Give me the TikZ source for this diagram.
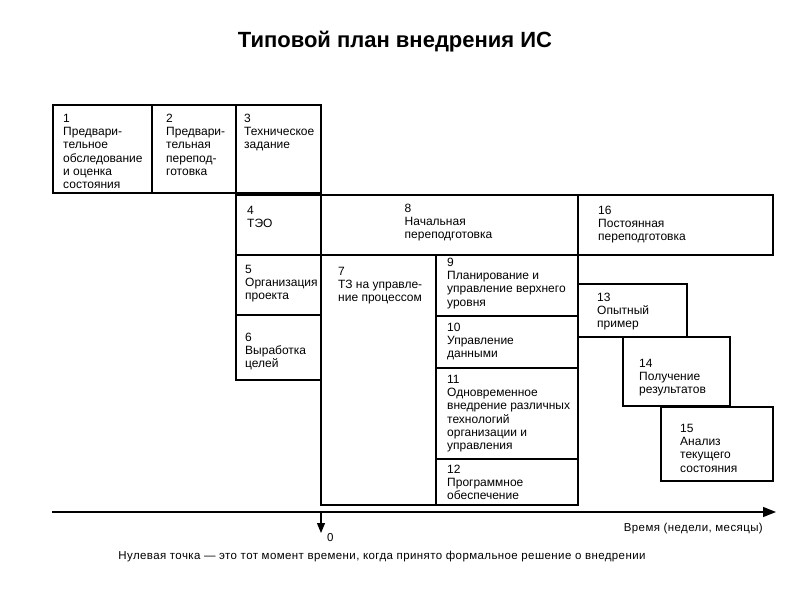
\documentclass[tikz,border=0pt]{standalone}
\usepackage{fontspec}
\setmainfont{Liberation Sans}
\usetikzlibrary{arrows.meta,positioning}

\tikzstyle{blk}=[draw,rectangle,line width=1.4pt,inner sep=0pt,outer sep=0pt,anchor=north west]
\tikzstyle{txt}=[anchor=north west,inner sep=0pt,align=left,font=\fontsize{12}{13.2}\selectfont]
\tikzstyle{note}=[inner sep=0pt,font=\fontsize{11.5}{13}\selectfont\addfontfeature{LetterSpace=3.5}]

\begin{document}
\begin{tikzpicture}[x=1pt,y=-1pt]
        \useasboundingbox (0,0) rectangle (800,600);
        \node[font=\fontsize{22}{26}\selectfont\bfseries] (title) at (395,42) {Типовой план внедрения ИС};
        %
        \node[blk,minimum width=99,minimum height=88](b1) at (53,105){};
        \node[blk,minimum width=84,minimum height=88](b2) at (152,105){};
        \node[blk,minimum width=85,minimum height=88](b3) at (236,105){};
        \node[blk,minimum width=85,minimum height=60](b4) at (236,195){};
        \node[blk,minimum width=257,minimum height=60](b8) at (321,195){};
        \node[blk,minimum width=195,minimum height=60](b16) at (578,195){};
        \node[blk,minimum width=85,minimum height=60](b5) at (236,255){};
        \node[blk,minimum width=85,minimum height=65](b6) at (236,315){};
        \node[blk,minimum width=115,minimum height=250](b7) at (321,255){};
        \node[blk,minimum width=142,minimum height=61](b9) at (436,255){};
        \node[blk,minimum width=142,minimum height=52](b10) at (436,316){};
        \node[blk,minimum width=142,minimum height=91](b11) at (436,368){};
        \node[blk,minimum width=142,minimum height=46](b12) at (436,459){};
        \node[blk,minimum width=109,minimum height=53](b13) at (578,284){};
        \node[blk,minimum width=107,minimum height=69](b14) at (623,337){};
        \node[blk,minimum width=112,minimum height=74](b15) at (661,407){};
        %
        \node[txt](t1) at ([shift={(10,9)}]b1.north west){1\\Предвари-\\тельное\\обследование\\и оценка\\состояния};
        \node[txt](t2) at ([shift={(14,9)}]b2.north west){2\\Предвари-\\тельная\\перепод-\\готовка};
        \node[txt](t3) at ([shift={(8,9)}]b3.north west){3\\Техническое\\задание};
        \node[txt](t4) at ([shift={(11,11)}]b4.north west){4\\ТЭО};
        \node[txt,anchor=north](t8) at ([shift={(-1,9)}]b8.north){8\\Начальная\\переподготовка};
        \node[txt](t16) at ([shift={(20,11)}]b16.north west){16\\Постоянная\\переподготовка};
        \node[txt](t5) at ([shift={(9,10)}]b5.north west){5\\Организация\\проекта};
        \node[txt](t6) at ([shift={(9,18)}]b6.north west){6\\Выработка\\целей};
        \node[txt](t7) at ([shift={(17,12)}]b7.north west){7\\ТЗ на управле-\\ние процессом};
        \node[txt](t9) at ([shift={(11,3)}]b9.north west){9\\Планирование и\\управление верхнего\\уровня};
        \node[txt](t10) at ([shift={(11,7)}]b10.north west){10\\Управление\\данными};
        \node[txt](t11) at ([shift={(11,7)}]b11.north west){11\\Одновременное\\внедрение различных\\технологий\\организации  и\\управления};
        \node[txt](t12) at ([shift={(11,6)}]b12.north west){12\\Программное\\обеспечение};
        \node[txt](t13) at ([shift={(19,9)}]b13.north west){13\\Опытный\\пример};
        \node[txt](t14) at ([shift={(16,22)}]b14.north west){14\\Получение\\результатов};
        \node[txt](t15) at ([shift={(19,17)}]b15.north west){15\\Анализ\\текущего\\состояния};
        %
        \coordinate (ax0) at (52,512);
        \coordinate (ax1) at (776,512);
        \coordinate (z0) at (321,512);
        \coordinate (z1) at (321,533);
        \draw[line width=1.2pt,-{Triangle[length=13pt,width=10pt]}] (ax0) -- (ax1);
        \draw[line width=1.2pt,-{Triangle[length=10pt,width=8pt]}] (z0) -- (z1);
        \node[note,anchor=east](time) at ([shift={(-13,17)}]ax1){Время (недели, месяцы)};
        \node[note,anchor=west](zero) at ([shift={(6,5)}]z1){0};
        \node[note](cap) at (382,557){Нулевая точка —  это тот момент времени, когда принято формальное решение о внедрении};
\end{tikzpicture}
\end{document}
